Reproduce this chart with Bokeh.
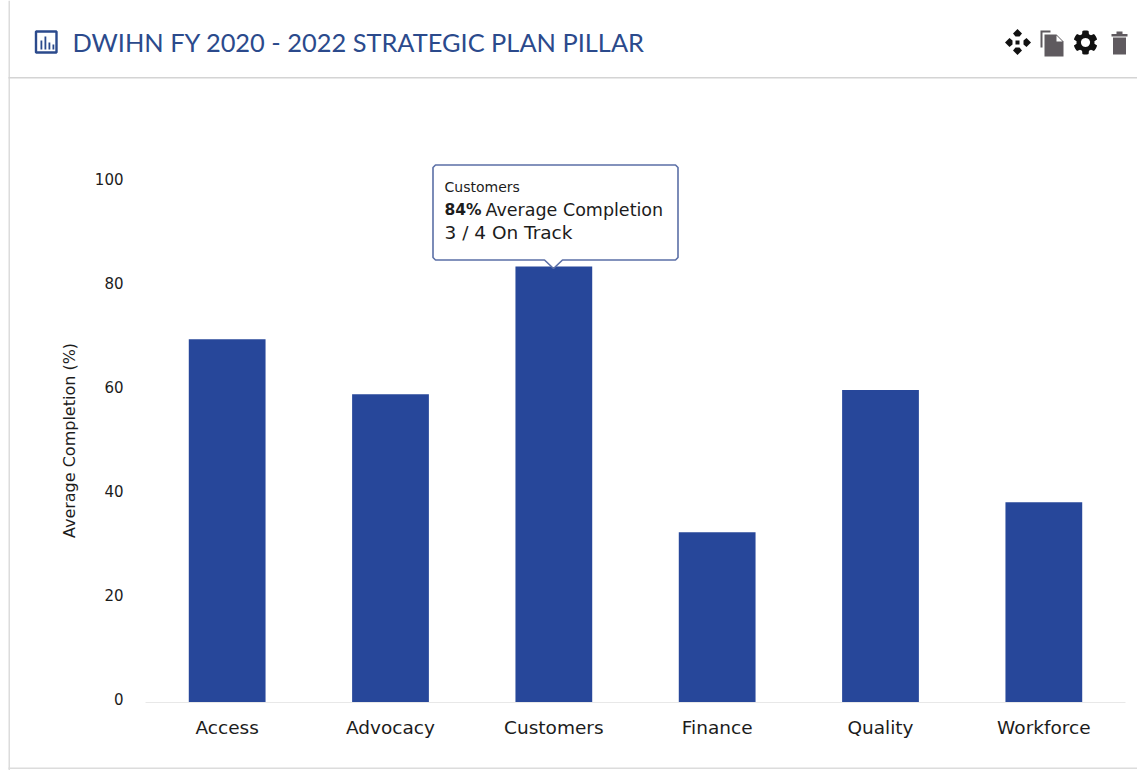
import math

from bokeh.core.properties import value
from bokeh.embed import file_html
from bokeh.models import FactorRange, LinearAxis, Range1d
from bokeh.plotting import figure
from bokeh.resources import INLINE

# Chart data
categories = ["Access", "Advocacy", "Customers", "Finance", "Quality", "Workforce"]
completion = [70, 59.4, 84, 32.8, 60.2, 38.6]
y_ticks = [0, 20, 40, 60, 80, 100]

title_text = "DWIHN FY 2020 - 2022 STRATEGIC PLAN PILLAR"
y_label = "Average Completion (%)"
tip_name = "Customers"
tip_bold = "84%"
tip_rest = "Average Completion"
tip_track = "3 / 4 On Track"

NAVY = "#27479a"
TITLE = "#2b4a8c"
INK = "#1c1c1c"
RULE = "#dcdcdc"
ICON = "#111111"
ICON_SOFT = "#5f5a5f"

W, H = 1137, 770
LEFT, RIGHT, TOP, BOTTOM = 145, 12, 178, 68
Y_END = 100.96
LABEL_SHIFT = 0.77  # tick labels sit slightly above their nominal height

p = figure(
    width=W, height=H, output_backend="svg", toolbar_location=None,
    x_range=FactorRange(factors=categories, range_padding=0),
    y_range=Range1d(0, Y_END), y_axis_location=None,
    min_border_left=LEFT, min_border_right=RIGHT,
    min_border_top=TOP, min_border_bottom=BOTTOM,
    background_fill_color="white", border_fill_color="white", outline_line_color=None,
)
p.grid.visible = False

p.vbar(x=categories, top=completion, width=0.47, color=NAVY, line_color=None)

# Horizontal axis
xa = p.xaxis[0]
xa.axis_line_color = "#e8e8e8"
xa.major_tick_line_color = None
xa.minor_tick_line_color = None
xa.major_label_standoff = 8
xa.major_label_text_font = "DejaVu Sans"
xa.major_label_text_font_size = "18.5px"
xa.major_label_text_color = INK

# Vertical axis on a slightly offset range so its labels ride above the ticks
p.extra_y_ranges = {"labels": Range1d(-LABEL_SHIFT, Y_END - LABEL_SHIFT)}
ya = LinearAxis(y_range_name="labels", axis_label=y_label)
ya.ticker = y_ticks
ya.axis_line_color = None
ya.major_tick_line_color = None
ya.minor_tick_line_color = None
ya.major_label_standoff = 16
ya.major_label_text_font = "DejaVu Sans"
ya.major_label_text_font_size = "15px"
ya.major_label_text_color = INK
ya.axis_label_standoff = 13
ya.axis_label_text_font = "DejaVu Sans"
ya.axis_label_text_font_size = "16px"
ya.axis_label_text_font_style = "normal"
ya.axis_label_text_color = INK
p.add_layout(ya, "left")

# Transparent layer over the chart for the panel chrome, header and callout,
# measured in page pixels
chrome = figure(
    width=W, height=H, output_backend="svg", toolbar_location=None,
    x_range=Range1d(0, W), y_range=Range1d(H, 0),
    x_axis_location=None, y_axis_location=None,
    min_border=0, background_fill_color=None, border_fill_color=None, outline_line_color=None,
    styles={"position": "absolute", "left": "0", "top": "0"},
)
chrome.grid.visible = False


def shape(xs, ys, fill, line=None, width=1):
    chrome.patch(xs, ys, fill_color=fill, line_color=line, line_width=width)


def box(left, right, top, bottom, fill, line=None, width=1):
    shape([left, right, right, left], [top, top, bottom, bottom], fill, line, width)


def caption(x, y, text, size, color=INK, font="DejaVu Sans", style="normal"):
    chrome.text(
        [x], [y], text=[text], text_font=value(font), text_font_size=size,
        text_color=color, text_font_style=style, text_baseline="middle",
    )


# Panel frame and header rule
box(8, 9.5, 0, 770, RULE)
box(8, 1137, 76.5, 78, "#d4d4d4")
box(8, 1137, 767, 768.5, RULE)

# Header chart icon
box(35.5, 56, 31, 52, "white", TITLE, 2.4)
for bx, bt in [(40, 40), (44, 36), (48, 42), (52, 44)]:
    box(bx, bx + 1.8, bt, 49, TITLE)
caption(72, 41, title_text, "25.4px", TITLE, "Lato")

# Move icon: four arrowheads round a small dot
for cx, cy, dx, dy in [(1017, 33, 0, -1), (1017, 50, 0, 1), (1009, 42, -1, 0), (1026, 42, 1, 0)]:
    px, py = -dy, dx
    shape(
        [cx + dx * 4.5, cx + px * 4.5, cx - dx * 3 + px * 2, cx - dx * 3 - px * 2, cx - px * 4.5],
        [cy + dy * 4.5, cy + py * 4.5, cy - dy * 3 + py * 2, cy - dy * 3 - py * 2, cy - py * 4.5],
        ICON,
    )
box(1015, 1019, 40, 44, ICON)

# Copy icon
shape([1040, 1050, 1050, 1042, 1042, 1040], [30, 30, 32, 32, 47, 47], ICON_SOFT)
shape([1044, 1056, 1063, 1063, 1044], [34, 34, 41, 56, 56], ICON_SOFT)
shape([1056, 1056, 1062], [35, 41, 41], "white")

# Gear icon
gear_x, gear_y = [], []
for i in range(48):
    a = 2 * math.pi * i / 48
    r = 12 if math.cos(a * 6) > -0.1 else 9
    gear_x.append(1085 + r * math.sin(a))
    gear_y.append(42 + r * math.cos(a))
shape(gear_x, gear_y, ICON)
hole = [2 * math.pi * i / 24 for i in range(24)]
shape([1085 + 4.5 * math.cos(a) for a in hole], [42 + 4.5 * math.sin(a) for a in hole], "white")

# Trash icon
box(1111, 1127, 33.5, 36, ICON_SOFT)
box(1116, 1122, 31, 34, ICON_SOFT)
box(1112.5, 1125.5, 37, 54, ICON_SOFT)

# Callout above the Customers bar, with slightly eased corners
box_l, box_r, box_t, box_b = 432.5, 677.5, 164.5, 259.5
ease = 2.5
shape(
    [box_l + ease, box_r - ease, box_r, box_r, box_r - ease, 562, 553, 544, box_l + ease, box_l, box_l],
    [box_t, box_t, box_t + ease, box_b - ease, box_b, box_b, 268, box_b, box_b, box_b - ease, box_t + ease],
    "white", "#5b6fa6", 1.6,
)
caption(444, 186.5, tip_name, "14px")
caption(444, 209.5, tip_bold, "15.5px", style="bold")
caption(485, 209.5, tip_rest, "17.5px")
caption(444, 231.5, tip_track, "18.5px")

open("out.html", "w").write(file_html([p, chrome], INLINE))
